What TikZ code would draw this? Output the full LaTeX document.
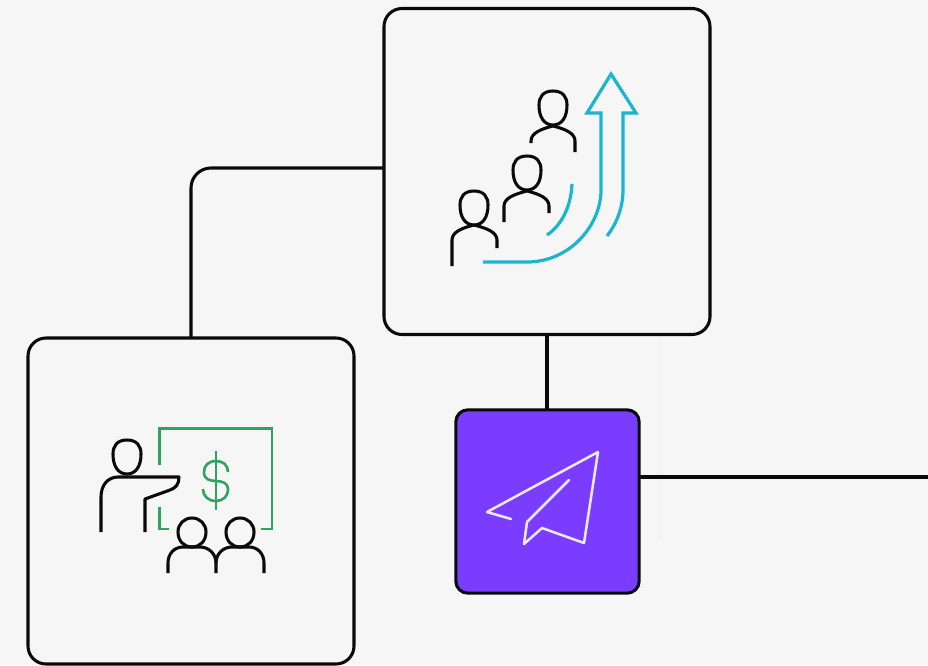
\documentclass[tikz,border=0pt]{standalone}
\usetikzlibrary{calc}
\definecolor{bgc}{HTML}{F6F6F6}
\definecolor{linec}{HTML}{0A0A0A}
\definecolor{tealc}{HTML}{1CB5D0}
\definecolor{greenc}{HTML}{2EA55F}
\definecolor{violetc}{HTML}{7A3DFF}
\definecolor{planec}{HTML}{ECE8F4}
\definecolor{stripc}{HTML}{F4F4F4}
\tikzset{
  x=0.75pt,y=-0.75pt,
  bigbox/.style={draw=linec,line width=2.3pt,fill=bgc,rounded corners=13.5pt,minimum width=244.5pt,minimum height=244.5pt,inner sep=0pt,outer sep=0pt},
  smallbox/.style={draw=linec,line width=2.3pt,fill=violetc,rounded corners=9pt,minimum width=137.5pt,minimum height=137.5pt,inner sep=0pt,outer sep=0pt},
  conn/.style={draw=linec,line width=2.3pt},
  ink/.style={draw=linec,line width=2.3pt,line join=round},
  teal/.style={draw=tealc,line width=2.4pt,line join=miter},
  board/.style={draw=greenc,line width=1.95pt,line join=miter},
  plane/.style={draw=planec,line width=1.9pt,line join=round,line cap=round},
}
\newcommand{\headshape}[2]{%
  \draw[ink] (#1,#2-17) .. controls (#1+10,#2-17) and (#1+14,#2-11) .. (#1+14,#2-3)
    .. controls (#1+14,#2+9) and (#1+9,#2+17) .. (#1,#2+17)
    .. controls (#1-9,#2+17) and (#1-14,#2+9) .. (#1-14,#2-3)
    .. controls (#1-14,#2-11) and (#1-10,#2-17) .. (#1,#2-17) -- cycle;}
\begin{document}
\begin{tikzpicture}
\useasboundingbox (0,0) rectangle (928,665);
\fill[bgc] (0,0) rectangle (928,665);
\clip (0,0) rectangle (928,665);
\fill[stripc] (657,312) rectangle (663,540);
\node[bigbox] (top) at (547,171.5) {};
\node[bigbox] (left) at (191,501) {};
\node[smallbox] (plane) at (547.5,501.5) {};
\coordinate (rightend) at (928,477);
\draw[conn,rounded corners=15pt] (top.west |- 0,168) -- (191,168) -- (left.north);
\draw[conn] (top.south) -- (top.south |- plane.north);
\draw[conn] (plane.east |- rightend) -- (rightend);
% growth icon: people
\headshape{553}{108}
\draw[ink] (531,143) -- (531,141) .. controls (531,133) and (541,129) .. (553,126)
  .. controls (565,129) and (575,133) .. (575,141) -- (575,152);
\headshape{527}{173}
\draw[ink] (504,222) -- (504,206) .. controls (504,198) and (515,194) .. (527,191)
  .. controls (539,194) and (549,198) .. (549,206) -- (549,213);
\headshape{474}{208}
\draw[ink] (452,266) -- (452,240) .. controls (452,232) and (462,228) .. (474,225)
  .. controls (486,228) and (497,232) .. (497,240) -- (497,248);
% growth icon: arrow
\draw[teal] (483,262) -- (527,262) .. controls (570,262) and (601,225) .. (601,190)
  -- (601,113) -- (587,113) -- (611,74) -- (636,113) -- (623,113) -- (623,190)
  .. controls (623,207) and (617,223) .. (607,236);
\draw[teal] (572,184) .. controls (571,206) and (562,225) .. (547,235);
% board icon
\draw[board] (159.5,465) -- (159.5,428.5) -- (272,428.5) -- (272,529) -- (261,529);
\draw[board] (159.5,507) -- (159.5,529) -- (169,529);
\draw[board] (216,451) -- (216,510);
\draw[board] (228,472) .. controls (228,465) and (223,461) .. (216,461)
  .. controls (208,461) and (204,466) .. (204,472)
  .. controls (204,488) and (228,474) .. (228,490)
  .. controls (228,496) and (223,501) .. (216,501)
  .. controls (208,501) and (203,496) .. (203,489);
\headshape{127}{457}
\draw[ink] (101,532) -- (101,497) .. controls (101,485) and (108,477) .. (118,477)
  -- (179,477) .. controls (179,484) and (176,488) .. (170,490) -- (145,499) -- (145,532);
\draw[ink] (192,518) .. controls (200,518) and (206,524) .. (206,532)
  .. controls (206,541) and (200,547) .. (192,547)
  .. controls (184,547) and (178,541) .. (178,532)
  .. controls (178,524) and (184,518) .. (192,518) -- cycle;
\draw[ink] (240,518) .. controls (248,518) and (254,524) .. (254,532)
  .. controls (254,541) and (248,547) .. (240,547)
  .. controls (232,547) and (226,541) .. (226,532)
  .. controls (226,524) and (232,518) .. (240,518) -- cycle;
\draw[ink] (168,573) -- (168,563) .. controls (168,554) and (174,547) .. (183,547)
  -- (200,547) .. controls (209,547) and (216,554) .. (216,563) -- (216,573);
\draw[ink] (216,563) .. controls (216,554) and (223,547) .. (232,547)
  -- (249,547) .. controls (258,547) and (264,554) .. (264,563) -- (264,573);
% paper plane
\draw[plane] (511,519) -- (487,512) -- (598,452) -- (584,543) -- (542,528) -- (524,544) -- (527,522) -- (569,480);
\end{tikzpicture}
\end{document}
